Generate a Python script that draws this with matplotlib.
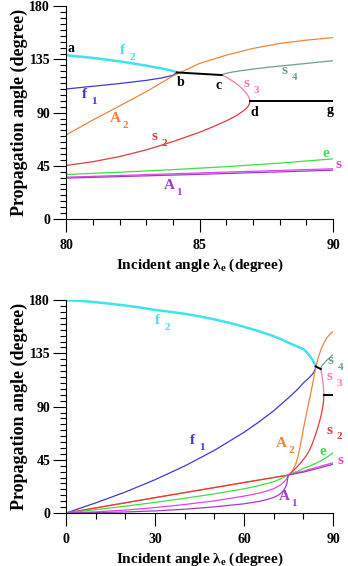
import matplotlib
matplotlib.use("Agg")
import matplotlib.pyplot as plt
import numpy as np

plt.rcParams['font.family'] = ['Liberation Serif', 'DejaVu Serif']
plt.rcParams['font.weight'] = 'bold'
plt.rcParams['axes.labelweight'] = 'bold'
plt.rcParams['mathtext.fontset'] = 'custom'
plt.rcParams['mathtext.rm'] = 'Liberation Serif:bold'
plt.rcParams['mathtext.it'] = 'Liberation Serif:bold'
plt.rcParams['mathtext.bf'] = 'Liberation Serif:bold'

# curves (incident angle, propagation angle)
f2_x = [0, 5, 10, 15, 20, 25, 30, 35, 40, 45, 50, 55, 60, 65, 70, 72.5, 75, 77.5,
        80, 81, 82, 83, 83.6, 84, 84.15]
f2_y = [180, 179.4, 178.3, 177, 175.5, 173.8, 171.8, 170.2, 168.5, 166.3, 163.8, 160.9,
        157.5, 153.8, 149.5, 147, 144, 141.3, 138.6, 136.3, 133.4, 129.8, 127.3, 125.3, 124]

f1_x = [0, 10, 20, 30, 40, 50, 60, 65, 70, 75, 78, 80, 81, 82, 83, 83.6, 84, 84.15]
f1_y = [0, 8.6, 17.8, 28.2, 39.8, 53, 68.3, 77, 86.5, 97.5, 104.5, 110, 112.3, 114.6,
        117.3, 119.4, 121.6, 124]

A2_x = [0, 30, 60, 74.9, 75.5, 76, 76.5, 77, 77.5, 78, 78.5, 79, 79.5, 80, 81, 82, 83, 84,
        85, 86, 87, 88, 89, 90]
A2_y = [0, 13, 25.8, 32.1, 33.2, 34.5, 36.5, 39, 42, 46, 51.3, 57.5, 64.2, 71.1, 83.8, 95.6,
        107.7, 121, 131.6, 138.6, 144.3, 148.5, 151.3, 153.5]

s2_x = [0, 30, 60, 74.9, 76, 77, 78, 79, 80, 81, 82, 83, 84, 85, 85.5, 86, 86.3, 86.5,
        86.7, 86.8, 86.86, 86.89]
s2_y = [0, 13, 25.8, 32.1, 34.3, 36.8, 39.4, 42.2, 45.3, 48.5, 52.8, 58.5, 65.5, 73.4, 78,
        83, 86.5, 89.3, 92.5, 94.8, 97, 99.5]

s3_x = [85.83, 86.0, 86.14, 86.3, 86.45, 86.58, 86.70, 86.80, 86.87, 86.89]
s3_y = [121.8, 119.9, 118.1, 115.8, 113.3, 110.6, 107.7, 104.9, 102.1, 99.5]

s4_x = [85.83, 85.9, 86, 86.25, 86.5, 87, 87.5, 88, 88.5, 89, 89.5, 90]
s4_y = [121.8, 122.6, 123.3, 124.4, 125.3, 126.8, 128.2, 129.4, 130.5, 131.6, 132.8, 133.9]

e_x = [0, 10, 20, 30, 40, 50, 60, 65, 70, 72, 73.5, 74.9, 76, 78, 80, 82, 84, 86, 88, 90]
e_y = [0, 2.8, 5.8, 9.0, 12.5, 16.2, 20.5, 23.2, 26.5, 28.6, 30.3, 32.1, 33.5, 35.3, 37.7,
       39.6, 41.8, 44.3, 47.3, 50.9]

s1_x = [0, 10, 20, 30, 40, 50, 60, 65, 68, 70, 72, 73, 74, 74.5, 74.9, 76, 78, 80, 85, 90]
s1_y = [0, 1, 2.5, 4.6, 7.2, 10.3, 14.3, 16.8, 18.9, 20.6, 23.3, 25.2, 27.8, 29.7, 32.1,
        33.0, 34.3, 35.4, 39, 42.5]

A1_x = [0, 10, 20, 30, 40, 50, 60, 65, 68, 70, 71.5, 72.5, 73.3, 74, 74.5, 74.9, 76, 78, 80,
        85, 90]
A1_y = [0, 0.3, 0.9, 1.8, 3.2, 5.2, 7.8, 9.8, 11.6, 13.2, 15, 16.9, 19.1, 22, 25.6, 32.1,
        32.6, 33.6, 34.6, 37.8, 41.3]

bc_x = [84.15, 85.83]
bc_y = [124, 121.8]
dg_x = [86.89, 90]
dg_y = [99.5, 99.5]

curves = [
    (f2_x, f2_y, '#3fe3ef', 1.8),
    (f1_x, f1_y, '#3b3bd0', 0.9),
    (A2_x, A2_y, '#f0853a', 0.9),
    (s2_x, s2_y, '#e33a3a', 0.9),
    (s3_x, s3_y, '#f27ab8', 0.9),
    (s4_x, s4_y, '#6f9e90', 0.9),
    (e_x, e_y, '#3fe03f', 0.9),
    (s1_x, s1_y, '#e046e0', 0.9),
    (A1_x, A1_y, '#a23cc8', 0.9),
    (bc_x, bc_y, 'black', 1.4),
    (dg_x, dg_y, 'black', 1.4),
]

def lab(ax, x, y, main, sub, color):
    ax.text(x, y, main, color=color, fontsize=11, ha='center', va='center', clip_on=False)
    if sub:
        ax.annotate(sub, xy=(x, y), xytext=(7, -5), textcoords='offset points',
                    color=color, fontsize=8, ha='center', va='center', annotation_clip=False)

def style(ax, xmin, xmax, major, minor):
    ax.set_xlim(xmin, xmax)
    ax.set_ylim(0, 180)
    ax.spines['top'].set_visible(False)
    ax.spines['right'].set_visible(False)
    ax.set_xticks(np.arange(xmin, xmax + 0.1, major))
    ax.set_xticks(np.arange(xmin, xmax + 0.1, minor), minor=True)
    ax.set_yticks([0, 45, 90, 135, 180])
    ax.set_yticks(np.arange(0, 181, 5), minor=True)
    ax.tick_params(which='major', direction='out', length=9.5, width=0.8, labelsize=10)
    ax.tick_params(which='minor', direction='out', length=4.3, width=0.8)
    ax.tick_params(axis='x', pad=5)
    ax.tick_params(axis='y', pad=2)
    ax.set_ylabel('Propagation angle (degree)', fontsize=13, fontweight='bold', labelpad=1)
    ax.set_xlabel(r'Incident angle $\lambda_{e}$ (degree)', fontsize=11, fontweight='bold',
                  labelpad=3)

fig = plt.figure(figsize=(3.48, 5.66), dpi=100)
ax1 = fig.add_axes([0.190, 0.613, 0.767, 0.376])
ax2 = fig.add_axes([0.190, 0.0936, 0.767, 0.376])

for ax in (ax1, ax2):
    for cx, cy, c, lw in curves:
        ax.plot(cx, cy, color=c, lw=lw)

style(ax1, 80, 90, 5, 1)
style(ax2, 0, 90, 30, 10)

# top panel labels
ax1.text(80.19, 144.3, 'a', fontsize=10, ha='center', va='center')
ax1.text(84.28, 115.3, 'b', fontsize=10, ha='center', va='center')
ax1.text(85.71, 113.3, 'c', fontsize=10, ha='center', va='center')
ax1.text(87.04, 90, 'd', fontsize=10, ha='center', va='center')
ax1.text(89.89, 91.4, 'g', fontsize=10, ha='center', va='center')
lab(ax1, 82.12, 142.9, 'f', '2', '#3fe3ef')
lab(ax1, 80.69, 105.5, 'f', '1', '#3b3bd0')
lab(ax1, 81.84, 85.2, 'A', '2', '#f0853a')
lab(ax1, 83.30, 69.7, 's', '2', '#e33a3a')
lab(ax1, 86.77, 114.7, 's', '3', '#f27ab8')
lab(ax1, 88.20, 126.0, 's', '4', '#6f9e90')
lab(ax1, 89.73, 55.1, 'e', '', '#3fe03f')
lab(ax1, 90.22, 45.8, 's', '1', '#e046e0')
lab(ax1, 83.87, 28.1, 'A', '1', '#a23cc8')

# bottom panel labels
lab(ax2, 30.7, 163.1, 'f', '2', '#3fe3ef')
lab(ax2, 42.5, 61.7, 'f', '1', '#3b3bd0')
lab(ax2, 72.7, 58.9, 'A', '2', '#f0853a')
lab(ax2, 88.7, 70.2, 's', '2', '#e33a3a')
lab(ax2, 86.5, 51.8, 'e', '', '#3fe03f')
lab(ax2, 92.4, 44.8, 's', '1', '#e046e0')
lab(ax2, 73.5, 13.8, 'A', '1', '#a23cc8')
lab(ax2, 88.7, 115.2, 's', '3', '#f27ab8')
lab(ax2, 89.3, 129.3, 's', '4', '#6f9e90')

fig.savefig('out.png', dpi=100)
